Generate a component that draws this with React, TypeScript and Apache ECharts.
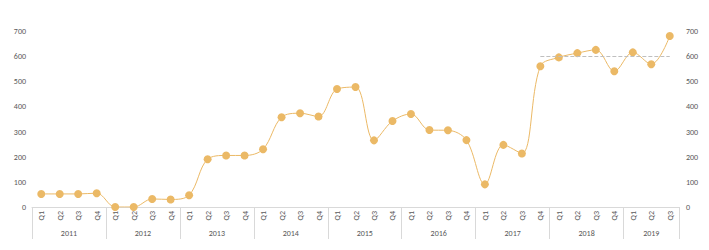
import React, { useEffect, useRef } from "react";
import * as echarts from "echarts";

const years = ["2011", "2012", "2013", "2014", "2015", "2016", "2017", "2018", "2019"];
const quarters = ["Q1", "Q2", "Q3", "Q4"];
const categories: string[] = [];
years.forEach((y) => quarters.forEach((q) => {
  if (!(y === "2019" && q === "Q4")) categories.push(y + q);
}));

const values = [
  52, 52, 52, 55,
  0, 0, 32, 30,
  47, 190, 205, 205,
  230, 357, 373, 360,
  469, 477, 265, 342,
  370, 306, 305, 266,
  90, 247, 213, 560,
  595, 612, 625, 540,
  615, 568, 680,
];

const targetValue = 600;
const targetStart = 27;
const targetEnd = 34;

const yTicks = [0, 100, 200, 300, 400, 500, 600, 700];

export default function App() {
  const ref = useRef<HTMLDivElement>(null);
  useEffect(() => {
    document.body.style.margin = "0";
    const chart = echarts.init(ref.current!, null, { renderer: "svg" });
    // year axis: 2 points per quarter, boundaryGap false
    const n = categories.length;
    const yearAxisData: string[] = [];
    for (let j = 0; j <= n * 2; j++) yearAxisData.push("p" + j);
    const yearLabelAt: Record<number, string> = {};
    let start = 0;
    years.forEach((y) => {
      const count = categories.filter((c) => c.startsWith(y)).length;
      yearLabelAt[start * 2 + count] = y;
      start += count;
    });
    const boundaries = new Set<number>();
    let b = 0;
    boundaries.add(0);
    years.forEach((y) => {
      b += categories.filter((c) => c.startsWith(y)).length;
      boundaries.add(b * 2);
    });
    const font = "Calibri, 'Liberation Sans', 'DejaVu Sans', sans-serif";
    const labelColor = "#595959";
    const lineColor = "#d9d9d9";
    chart.setOption({
      animation: false,
      grid: { left: 32, right: 30, top: 31, bottom: 43, containLabel: false },
      xAxis: [
        {
          type: "category",
          data: categories,
          boundaryGap: true,
          axisLine: { show: true, lineStyle: { color: lineColor, width: 1 } },
          axisTick: { show: false },
          axisLabel: {
            rotate: 90,
            margin: 4,
            fontSize: 8,
            color: labelColor,
            fontFamily: font,
            interval: 0,
            formatter: (v: string) => v.slice(4),
          },
        },
        {
          type: "category",
          data: yearAxisData,
          boundaryGap: false,
          position: "bottom",
          axisLine: { show: false },
          axisTick: {
            show: true,
            length: 32,
            lineStyle: { color: lineColor, width: 1 },
            interval: (i: number) => boundaries.has(i),
          },
          axisLabel: {
            margin: 22,
            fontSize: 8,
            color: labelColor,
            fontFamily: font,
            interval: (i: number) => yearLabelAt[i] !== undefined,
            formatter: (_v: string, i: number) => yearLabelAt[i] || "",
          },
        },
      ],
      yAxis: [
        {
          type: "value",
          min: 0,
          max: 700,
          interval: 100,
          splitLine: { show: false },
          axisLine: { show: false },
          axisTick: { show: false },
          axisLabel: { fontSize: 8, color: labelColor, fontFamily: font, margin: 6 },
        },
        {
          type: "value",
          min: 0,
          max: 700,
          interval: 100,
          position: "right",
          splitLine: { show: false },
          axisLine: { show: false },
          axisTick: { show: false },
          axisLabel: { fontSize: 8, color: labelColor, fontFamily: font, margin: 7 },
        },
      ],
      series: [
        {
          type: "line",
          data: values,
          smooth: 0.35,
          symbol: "circle",
          symbolSize: 8,
          lineStyle: { color: "#EBB966", width: 1 },
          itemStyle: { color: "#EBB966" },
          markLine: {
            silent: true,
            symbol: "none",
            label: { show: false },
            lineStyle: { color: "#bfbfbf", type: "dashed", width: 1 },
            data: [[{ coord: [targetStart, targetValue] }, { coord: [targetEnd, targetValue] }]],
          },
        },
        {
          type: "line",
          yAxisIndex: 1,
          data: [],
        },
      ],
    });
    void yTicks;
    return () => chart.dispose();
  }, []);
  return <div ref={ref} style={{ width: 709, height: 250 }} />;
}
